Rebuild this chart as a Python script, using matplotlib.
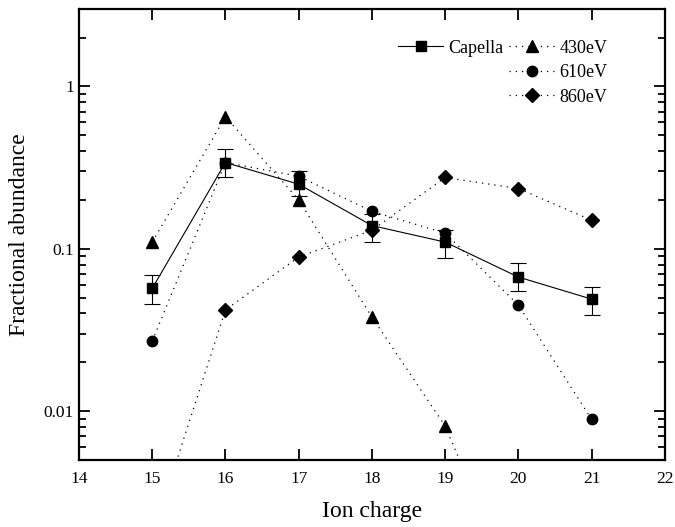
# Fractional abundance vs ion charge: Capella compared with model plasmas at three temperatures

import numpy as np
import matplotlib.pyplot as plt
from matplotlib.lines import Line2D

plt.rcParams['font.family'] = ['Liberation Serif', 'DejaVu Serif']

charge = [15, 16, 17, 18, 19, 20, 21]
capella = [0.057, 0.34, 0.25, 0.139, 0.11, 0.067, 0.049]
capella_lo = [0.046, 0.275, 0.21, 0.11, 0.088, 0.055, 0.039]
capella_hi = [0.069, 0.41, 0.30, 0.164, 0.13, 0.082, 0.058]
ev430 = [0.11, 0.65, 0.20, 0.038, 0.0081, 0.0007]
ev610 = [0.027, 0.34, 0.28, 0.17, 0.125, 0.045, 0.0089]
ev860 = [0.0017, 0.042, 0.089, 0.13, 0.275, 0.235, 0.15]

cap = np.array(capella)
yerr = [cap - np.array(capella_lo), np.array(capella_hi) - cap]
dots = (0, (1, 4))

fig = plt.figure(figsize=(6.75, 5.27), dpi=100)
ax = fig.add_axes([0.117, 0.127, 0.868, 0.856])

ax.errorbar(charge, capella, yerr=yerr, fmt='none', ecolor='black',
            elinewidth=0.8, capsize=6, capthick=0.8, zorder=3)
l_cap, = ax.plot(charge, capella, 's-', color='black', ms=7, lw=0.8, zorder=4)
l430, = ax.plot(charge[:len(ev430)], ev430, marker='^', ls=dots, color='black', ms=8, lw=0.9)
l610, = ax.plot(charge, ev610, marker='o', ls=dots, color='black', ms=7.5, lw=0.9)
l860, = ax.plot(charge, ev860, marker='D', ls=dots, color='black', ms=7.5, lw=0.9)

ax.set_yscale('log')
ax.set_xlim(14, 22)
ax.set_ylim(0.005, 3)
ax.set_xticks(range(14, 23))
ax.set_yticks([0.01, 0.1, 1])
ax.set_yticklabels(['0.01', '0.1', '1'])
ax.tick_params(which='both', direction='in', top=True, right=True, labelsize=12.5)
ax.tick_params(which='major', length=8, width=1.3)
ax.tick_params(which='minor', length=5, width=1.3)
ax.tick_params(axis='x', pad=8)
for s in ax.spines.values():
    s.set_linewidth(1.6)

ax.set_xlabel('Ion charge', fontsize=17, labelpad=10)
ax.set_ylabel('Fractional abundance', fontsize=17, labelpad=10)

blank = Line2D([], [], linestyle='none')
ax.legend([l_cap, blank, blank, l430, l610, l860],
          ['Capella', '', '', '430eV', '610eV', '860eV'],
          ncol=2, frameon=False, fontsize=13, loc='upper right',
          bbox_to_anchor=(0.915, 0.948), handlelength=2.5, handletextpad=0.3,
          columnspacing=0.3, labelspacing=0.42, borderaxespad=0)

fig.savefig('out.png', dpi=100)
